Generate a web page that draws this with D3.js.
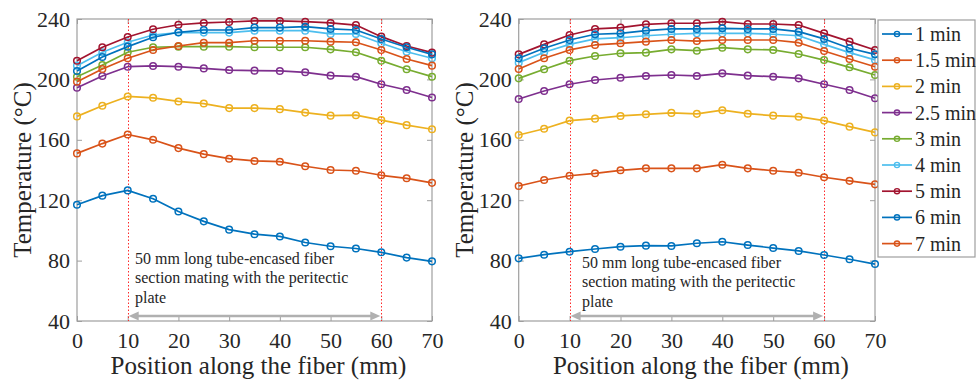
<!DOCTYPE html>
<html>
<head>
<meta charset="utf-8">
<script src="https://cdn.jsdelivr.net/npm/d3@7"></script>
<style>
  body { margin: 0; background: #fff; }
  svg { display: block; }
  text { font-family: "Liberation Serif", "Times New Roman", serif; fill: #262626; }
</style>
</head>
<body>
<svg id="chart" width="976" height="381"></svg>
<script>
// Measurement positions along the fiber (mm)
const positions = [0, 5, 10, 15, 20, 25, 30, 35, 40, 45, 50, 55, 60, 65, 70];
const legendLabels = ["1 min", "1.5 min", "2 min", "2.5 min", "3 min", "4 min", "5 min", "6 min", "7 min"];
const lineColors = ["#0072BD", "#D95319", "#EDB120", "#7E2F8E", "#77AC30", "#4DBEEE", "#A2142F", "#0072BD", "#D95319"];
const xTicks = [0, 10, 20, 30, 40, 50, 60, 70];
const yTicks = [40, 80, 120, 160, 200, 240];
const plateStart = 10, plateEnd = 60;
const noteLines = ["50 mm long tube-encased fiber", "section mating with the peritectic", "plate"];
const xTitle = "Position along the fiber (mm)";
const yTitle = "Temperature (°C)";

// Left panel temperatures (°C)
const left1 = [117, 123, 126.5, 121, 112.5, 106, 100.5, 97.5, 96, 92, 89.5, 88, 85.5, 82, 79.5];
const left15 = [151, 157.5, 163.5, 160, 154.5, 150.5, 147.5, 146, 145.5, 142.5, 140, 139.5, 136.5, 134.5, 131.5];
const left2 = [175.5, 182.5, 188.7, 187.8, 185.4, 184, 181, 181, 180.3, 178, 176, 176.3, 173, 169.7, 167];
const left25 = [194.5, 202.3, 208.4, 208.9, 208.4, 207.3, 206.2, 205.8, 205.6, 204.7, 202.5, 201.8, 196.8, 193, 188];
const left3 = [201.8, 209.5, 218, 221.3, 221.7, 221.7, 221.7, 221.3, 221.3, 221.3, 219.9, 218, 212.4, 206.7, 201.8];
const left4 = [209.1, 218, 224.6, 229.4, 231, 231, 231, 232.3, 232.3, 232.3, 230.1, 230.1, 223.9, 218.3, 214];
const left5 = [212.4, 221.3, 228.1, 233.2, 236.2, 237.4, 238, 238.7, 238.7, 238.2, 237.4, 236, 228.3, 222.1, 217.7];
const left6 = [205.6, 214.8, 221.7, 227.9, 231.2, 232.7, 232.7, 234.3, 234.3, 234.9, 233.4, 232.7, 226.8, 221.3, 216.6];
const left7 = [198.5, 206.9, 214, 219.5, 222.1, 224.3, 224.3, 225.6, 225.6, 225.6, 225, 224.6, 219.5, 213.5, 209.1];

// Right panel temperatures (°C)
const right1 = [81.5, 83.9, 85.9, 87.7, 89.2, 89.9, 89.7, 91.5, 92.5, 90.3, 88.3, 86.4, 83.7, 80.9, 77.7];
const right15 = [129.4, 133.4, 136.2, 137.8, 139.8, 141.1, 141.1, 141.1, 143.5, 141.1, 139.5, 138.2, 135.2, 132.8, 130.5];
const right2 = [163.2, 167.3, 172.7, 174, 175.8, 176.9, 177.8, 177.2, 179.6, 177.3, 176, 175.3, 172.7, 168.7, 164.9];
const right25 = [187, 192.3, 196.8, 199.6, 201.1, 202.3, 202.9, 202.3, 204, 202.5, 201.8, 200.7, 196.8, 193, 187.5];
const right3 = [200.7, 206.7, 212.4, 215.5, 217.3, 217.7, 219.9, 219, 221, 219.9, 219.5, 216.8, 212.8, 208, 202.9];
const right4 = [211.1, 218, 223.2, 226.8, 227.6, 228.9, 229.9, 230.5, 230.5, 230.5, 229.9, 228.9, 223.2, 217.7, 212.9];
const right5 = [216.6, 223.2, 229.4, 233.4, 234.3, 236.5, 237.2, 237.2, 238.2, 236.7, 236.7, 236, 230.5, 225, 219.5];
const right6 = [214, 220.6, 226.1, 229.9, 230.5, 232.3, 233.4, 233.4, 233.8, 233.4, 233.4, 231.6, 226.8, 220.6, 216.6];
const right7 = [206.9, 214, 219.5, 222.8, 223.9, 225, 226.1, 225.4, 226.1, 226.1, 226.1, 224.3, 218.8, 213.5, 208.4];

const panels = [
  { left: 77, right: 432, noteX: 135, noteY: 264, series: [left1, left15, left2, left25, left3, left4, left5, left6, left7] },
  { left: 518.7, right: 875, noteX: 582, noteY: 268, series: [right1, right15, right2, right25, right3, right4, right5, right6, right7] }
];

const svg = d3.select("#chart");
const plotTop = 19, plotBottom = 321;
const axisGray = "#9e9e9e";

panels.forEach(p => {
  const x = d3.scaleLinear().domain([0, 70]).range([p.left, p.right]);
  const y = d3.scaleLinear().domain([40, 240]).range([plotBottom, plotTop]);
  const g = svg.append("g");

  // Axes frame with inward ticks on all four sides
  const bAxis = g.append("g").attr("transform", `translate(0,${plotBottom})`)
    .call(d3.axisBottom(x).tickValues(xTicks).tickSizeInner(-5).tickSizeOuter(0).tickPadding(11));
  const tAxis = g.append("g").attr("transform", `translate(0,${plotTop})`)
    .call(d3.axisTop(x).tickValues(xTicks).tickSizeInner(-5).tickSizeOuter(0).tickFormat(""));
  const lAxis = g.append("g").attr("transform", `translate(${p.left},0)`)
    .call(d3.axisLeft(y).tickValues(yTicks).tickSizeInner(-5).tickSizeOuter(0).tickPadding(7));
  const rAxis = g.append("g").attr("transform", `translate(${p.right},0)`)
    .call(d3.axisRight(y).tickValues(yTicks).tickSizeInner(-5).tickSizeOuter(0).tickFormat(""));
  [bAxis, tAxis, lAxis, rAxis].forEach(a => {
    a.select(".domain").remove();
    a.selectAll("line").attr("stroke", axisGray).attr("stroke-width", 1);
    a.selectAll("text").style("font-size", "22px").attr("fill", "#262626")
      .style("font-family", '"Liberation Serif", serif');
  });
  g.append("rect").attr("x", p.left).attr("y", plotTop)
    .attr("width", p.right - p.left).attr("height", plotBottom - plotTop)
    .attr("fill", "none").attr("stroke", axisGray).attr("stroke-width", 1.2);

  // Boundaries of the plate section (dotted red, snapped to the pixel grid)
  [plateStart, plateEnd].forEach(v => {
    const px = Math.round(x(v)) + 0.5;
    g.append("line").attr("x1", px).attr("x2", px).attr("y1", plotTop).attr("y2", plotBottom)
      .attr("stroke", "#ff2a2a").attr("stroke-width", 1).attr("stroke-dasharray", "1.5,2");
  });

  // Double-headed arrow spanning the plate section
  const ay = 316, head = 10, half = 4.5;
  const ax0 = x(plateStart) + 1, ax1 = x(plateEnd) - 1;
  g.append("line").attr("x1", ax0 + head - 1).attr("x2", ax1 - head + 1).attr("y1", ay).attr("y2", ay)
    .attr("stroke", "#b0b0b0").attr("stroke-width", 2.5);
  g.append("path").attr("d", `M${ax0},${ay} L${ax0 + head},${ay - half} L${ax0 + head},${ay + half} Z`).attr("fill", "#b0b0b0");
  g.append("path").attr("d", `M${ax1},${ay} L${ax1 - head},${ay - half} L${ax1 - head},${ay + half} Z`).attr("fill", "#b0b0b0");

  // Annotation
  noteLines.forEach((t, i) => {
    g.append("text").attr("x", p.noteX).attr("y", p.noteY + i * 19.3)
      .style("font-size", "16px").attr("fill", "#262626").text(t);
  });

  // Temperature profiles
  const line = d3.line().x((d, i) => x(positions[i])).y(d => y(d));
  p.series.forEach((vals, k) => {
    const s = g.append("g");
    s.append("path").datum(vals).attr("d", line)
      .attr("fill", "none").attr("stroke", lineColors[k]).attr("stroke-width", 1.7)
      .attr("stroke-linejoin", "round");
    s.selectAll("circle").data(vals).join("circle")
      .attr("cx", (d, i) => x(positions[i])).attr("cy", d => y(d)).attr("r", 3.3)
      .attr("fill", "none").attr("stroke", lineColors[k]).attr("stroke-width", 1.5);
  });

  // Axis titles
  g.append("text").attr("x", (p.left + p.right) / 2 + 4).attr("y", 374)
    .attr("text-anchor", "middle").style("font-size", "25px").text(xTitle);
  g.append("text").attr("transform", `translate(${p.left - 46},${(plotTop + plotBottom) / 2}) rotate(-90)`)
    .attr("text-anchor", "middle").style("font-size", "25px").text(yTitle);
});

// Legend
const lg = svg.append("g");
lg.append("rect").attr("x", 878).attr("y", 20).attr("width", 97).attr("height", 237)
  .attr("fill", "#fff").attr("stroke", axisGray).attr("stroke-width", 1.2);
legendLabels.forEach((name, i) => {
  const cy = 34 + i * 26.2;
  lg.append("line").attr("x1", 882).attr("x2", 912).attr("y1", cy).attr("y2", cy)
    .attr("stroke", lineColors[i]).attr("stroke-width", 1.7);
  lg.append("circle").attr("cx", 897).attr("cy", cy).attr("r", 2.6)
    .attr("fill", "none").attr("stroke", lineColors[i]).attr("stroke-width", 1.4);
  lg.append("text").attr("x", 915).attr("y", cy + 7).style("font-size", "20px").text(name);
});
</script>
</body>
</html>
